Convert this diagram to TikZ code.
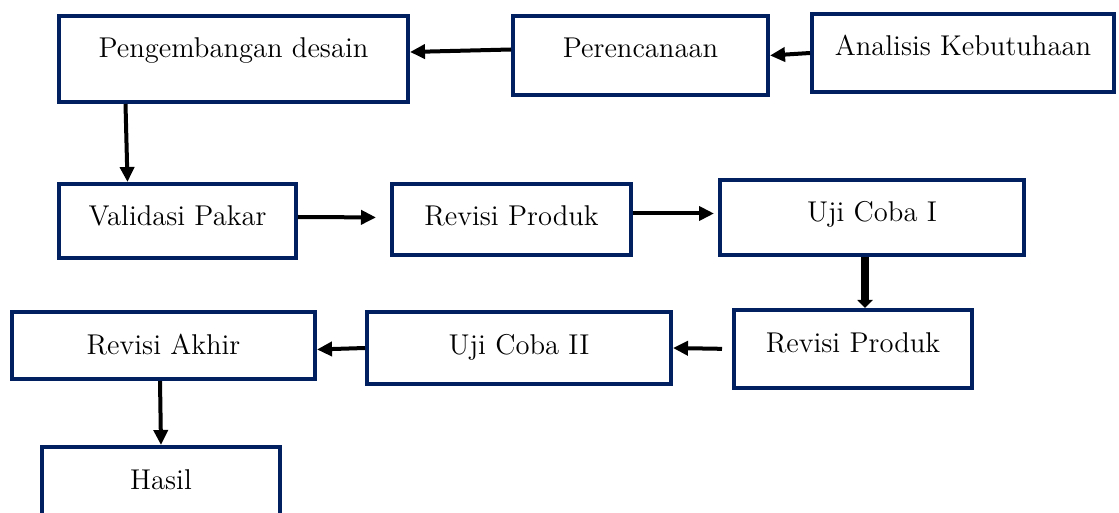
\documentclass[tikz,border=0pt]{standalone}
\usepackage{tikz}
\usetikzlibrary{arrows.meta}
\definecolor{navy}{RGB}{0,32,96}

\begin{document}
\begin{tikzpicture}[x=0.5pt, y=-0.5pt, font=\fontsize{14.3}{17}\selectfont]
      \tikzstyle{kotak} = [draw=navy, line width=2pt, anchor=north west, inner sep=0pt, text height=21pt]
      \tikzstyle{panah} = [black, line width=2pt, -{Triangle[length=7.5pt,width=7pt]}]
      \tikzstyle{tebal} = [black, line width=4pt, -{Triangle[length=4pt,width=7.5pt]}]
      \useasboundingbox (0,0) rectangle (1119,513);
      \begin{scope}
	\path
	node[kotak, minimum width=174.5pt, text depth=22pt] (desain) at (57,14) {Pengembangan desain}
	node[kotak, minimum width=127.5pt, text depth=18.5pt] (rencana) at (511,14) {Perencanaan}
	node[kotak, minimum width=151pt, text depth=18pt] (analisis) at (810,12) {Analisis Kebutuhaan}
	node[kotak, minimum width=118.5pt, text depth=16pt] (validasi) at (57,182) {Validasi Pakar}
	node[kotak, minimum width=119.5pt, text depth=14.5pt] (revisi) at (390,182) {Revisi Produk}
	node[kotak, minimum width=152pt, text depth=16.5pt] (ujisatu) at (718,178) {Uji Coba I}
	node[kotak, minimum width=151.5pt, text depth=12.5pt] (akhir) at (10,310) {Revisi Akhir}
	node[kotak, minimum width=152pt, text depth=15pt] (ujidua) at (365,310) {Uji Coba II}
	node[kotak, minimum width=119pt, text depth=18pt] (revisidua) at (732,308) {Revisi Produk}
	node[kotak, minimum width=119pt, text depth=19pt] (hasil) at (40,445) {Hasil}
	(analisis.west) edge[panah] (rencana.east)
	([yshift=3pt]rencana.west) edge[panah] ([yshift=3.5pt]desain.east)
	([xshift=-54pt]desain.south) edge[panah] ([xshift=-25pt]validasi.north)
	([yshift=2pt]validasi.east) edge[panah, shorten >=7pt] ([yshift=1pt]revisi.west)
	([yshift=3pt]revisi.east) edge[panah, shorten >=2pt] ([yshift=2pt]ujisatu.west)
	([xshift=-3.5pt]ujisatu.south) edge[tebal] ([xshift=6pt]revisidua.north)
	(revisidua.west) edge[panah, shorten <=5pt] (ujidua.east)
	(ujidua.west) edge[panah] ([yshift=-2pt]akhir.east)
	([xshift=-1.75pt]akhir.south) edge[panah] (hasil.north)
	;
      \end{scope}
    \end{tikzpicture}
\end{document}
